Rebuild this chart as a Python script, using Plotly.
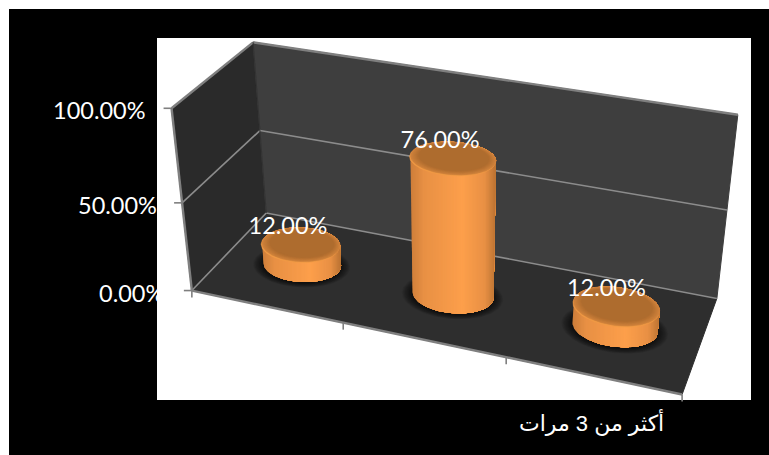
import numpy as np
import plotly.graph_objects as go

# Chart data
categories = ["", "", "أكثر من 3 مرات"]
shares = [12.0, 76.0, 12.0]
value_ticks = [0, 50, 100]
value_tick_labels = ["0.00%", "50.00%", "100.00%"]
value_max = 100.0

# Page geometry
WIDTH, HEIGHT = 769, 455
FRAME = (9, 9, 769, 455)
PANEL = (157, 38, 751, 400)

# Camera calibration: box coordinates (across, depth, height) and where they land on the page
BOX_POINTS = [(0, 0, 0), (0, 0, 1), (0, 1, 0), (0, 1, 1), (1, 0, 0), (1, 1, 0), (1, 1, 1),
              (0, 0, .5), (0, 1, .5), (1, 1, .5), (1/3, 0, 0), (2/3, 0, 0)]
PAGE_POINTS = [(192, 291), (171, 108), (266, 213), (253, 43), (682, 394), (717, 298), (738, 115),
               (183, 202), (260, 130), (727, 210), (343, 323), (506, 358)]


def fit_camera(box, page):
    rows, rhs = [], []
    for (a, b, c), (x, y) in zip(box, page):
        rows.append([a, b, c, 1, 0, 0, 0, 0, -x * a, -x * b, -x * c])
        rhs.append(x)
        rows.append([0, 0, 0, 0, a, b, c, 1, -y * a, -y * b, -y * c])
        rhs.append(y)
    sol = np.linalg.lstsq(np.array(rows, float), np.array(rhs, float), rcond=None)[0]
    return np.append(sol, 1.0).reshape(3, 4)


CAM = fit_camera(BOX_POINTS, PAGE_POINTS)


def project(u, d, v):
    u, d, v = np.broadcast_arrays(np.asarray(u, float), np.asarray(d, float), np.asarray(v, float))
    pts = np.stack([u, d, v, np.ones_like(u)])
    h = CAM @ pts.reshape(4, -1)
    return (h[0] / h[2]).reshape(u.shape), (h[1] / h[2]).reshape(u.shape)


def convex_hull(points):
    pts = sorted(set(points))

    def half(seq):
        out = []
        for p in seq:
            while len(out) > 1 and ((out[-1][0] - out[-2][0]) * (p[1] - out[-2][1])
                                    - (out[-1][1] - out[-2][1]) * (p[0] - out[-2][0])) <= 0:
                out.pop()
            out.append(p)
        return out[:-1]

    return half(pts) + half(pts[::-1])


def clip_right_of(polygon, x_min):
    out = []
    for (x0, y0), (x1, y1) in zip(polygon, polygon[1:] + polygon[:1]):
        if x0 >= x_min:
            out.append((x0, y0))
        if (x0 >= x_min) != (x1 >= x_min):
            out.append((x_min, y0 + (y1 - y0) * (x_min - x0) / (x1 - x0)))
    return out


fig = go.Figure()


def poly(x, y, color, line=None, width=1):
    fig.add_trace(go.Scatter(x=list(x) + [x[0]], y=list(y) + [y[0]], mode="lines", fill="toself",
                             fillcolor=color, line=dict(color=line or color, width=width),
                             hoverinfo="skip", showlegend=False))


def seg(p, q, color, width):
    x0, y0 = project(*p)
    x1, y1 = project(*q)
    fig.add_trace(go.Scatter(x=[float(x0), float(x1)], y=[float(y0), float(y1)], mode="lines",
                             line=dict(color=color, width=width), hoverinfo="skip", showlegend=False))


def quad(corners, color):
    xy = [project(*c) for c in corners]
    poly([float(p[0]) for p in xy], [float(p[1]) for p in xy], color)


# Walls and floor
quad([(0, 0, 0), (0, 1, 0), (0, 1, 1), (0, 0, 1)], "#2a2a2a")
quad([(0, 1, 0), (1, 1, 0), (1, 1, 1), (0, 1, 1)], "#3e3e3e")
quad([(0, 0, 0), (1, 0, 0), (1, 1, 0), (0, 1, 0)], "#2e2e2e")

# Gridlines on both walls
GRID = "#8c8c8c"
for t in value_ticks[:-1]:
    h = t / value_max
    seg((0, 0, h), (0, 1, h), GRID, 1.6)
    seg((0, 1, h), (1, 1, h), GRID, 1.6)

# Box edges
EDGE = "#7f7f7f"
seg((0, 0, 1), (0, 1, 1), EDGE, 2.4)
seg((0, 1, 1), (1, 1, 1), EDGE, 2.4)
seg((0, 0, 0), (0, 0, 1), EDGE, 2.4)
seg((0, 0, 0), (1, 0, 0), EDGE, 2.4)
seg((0, 1, 0), (0, 1, 1), "#333333", 1)


def tick_mark(x0, y0, x1, y1):
    fig.add_trace(go.Scatter(x=[x0, x1], y=[y0, y1], mode="lines", line=dict(color=EDGE, width=1.6),
                             hoverinfo="skip", showlegend=False))


n_cat = len(categories)
for i in range(n_cat + 1):
    x, y = project(i / n_cat, 0, 0)
    tick_mark(float(x), float(y), float(x), float(y) + 7)
for t in value_ticks:
    x, y = project(0, 0, t / value_max)
    tick_mark(float(x) - 8, float(y), float(x), float(y))


# Cylinders
R_U, R_D = 0.083, 0.197
DEPTH = 0.5
SIDE_STOPS = [(-1.0, (206, 126, 58)), (-0.7, (232, 144, 68)), (0.2, (253, 159, 75)),
              (0.72, (232, 144, 68)), (1.0, (182, 112, 48))]
TOP_OUTER = np.array([208, 130, 60])
TOP_INNER = np.array([174, 108, 46])


def rgb(c):
    return "rgb(%d,%d,%d)" % tuple(int(round(float(v))) for v in c)


def side_color(t):
    ts = [s[0] for s in SIDE_STOPS]
    return rgb([np.interp(t, ts, [s[1][k] for s in SIDE_STOPS]) for k in range(3)])


ring = np.linspace(0, 2 * np.pi, 145)
for i, share in enumerate(shares):
    uc = (i + 0.5) / n_cat
    h = share / value_max

    # soft shadow pooled on the floor
    for scale in np.linspace(1.25, 1.0, 14):
        sx, sy = project(uc + R_U * scale * np.cos(ring), DEPTH - 0.012 + R_D * scale * np.sin(ring), 0)
        poly(sx.tolist(), sy.tolist(), "rgba(0,0,0,0.06)", line="rgba(0,0,0,0)", width=0)

    # Paint the barrel's outline left to right: each layer covers everything to the right
    # of its own x, so the shading steps leave no gaps between them.
    bx, by = project(uc + R_U * np.cos(ring), DEPTH + R_D * np.sin(ring), 0)
    tx, ty = project(uc + R_U * np.cos(ring), DEPTH + R_D * np.sin(ring), h)
    outline = convex_hull([(float(a), float(b)) for a, b in zip(np.r_[bx, tx], np.r_[by, ty])])
    xs = [p[0] for p in outline]
    left, right = min(xs), max(xs)
    cx, half = (left + right) / 2, (right - left) / 2
    poly(xs, [p[1] for p in outline], side_color(-1), line="rgba(0,0,0,0)", width=0)
    for x_cut in np.linspace(left, right, 62)[1:-1]:
        part = clip_right_of(outline, float(x_cut))
        poly([p[0] for p in part], [p[1] for p in part], side_color((x_cut - cx) / half),
             line="rgba(0,0,0,0)", width=0)

    # lit front lip of the bevel, then the cap fading inward
    lx, ly = project(uc + R_U * np.cos(ring), DEPTH - 0.012 + R_D * np.sin(ring), h)
    poly(lx.tolist(), ly.tolist(), "#f09a44", width=0.5)
    for f, scale in zip(np.linspace(0, 1, 10), np.linspace(1.0, 0.82, 10)):
        x, y = project(uc + R_U * scale * np.cos(ring), DEPTH + 0.012 * f + R_D * scale * np.sin(ring), h)
        poly(x.tolist(), y.tolist(), rgb(TOP_OUTER + (TOP_INNER - TOP_OUTER) * f), width=0.5)

# Value labels sit just above each cap
LABEL_DX = [-13, -13, -10]
lab_x, lab_y = [], []
for i, share in enumerate(shares):
    x, y = project((i + 0.5) / n_cat, DEPTH, share / value_max)
    lab_x.append(float(x) + LABEL_DX[i])
    lab_y.append(float(y) - 16)
fig.add_trace(go.Scatter(x=lab_x, y=lab_y, mode="text", text=["%.2f%%" % s for s in shares],
                         textposition="middle center",
                         textfont=dict(family="Lato", size=23.5, color="white"),
                         hoverinfo="skip", showlegend=False))

# Axis labels
TICK_LABEL_DX = [-26, -23, -24]
for t, label, dx in zip(value_ticks, value_tick_labels, TICK_LABEL_DX):
    x, y = project(0, 0, t / value_max)
    fig.add_annotation(x=float(x) + dx, y=float(y) + 2, text=label, showarrow=False, xanchor="right",
                       yanchor="middle", font=dict(family="Lato", size=23.5, color="white"))
for i, label in enumerate(categories):
    if label:
        x, _ = project((i + 0.5) / n_cat, 0, 0)
        fig.add_annotation(x=float(x) - 1, y=422, text=label, showarrow=False, xanchor="center",
                           yanchor="middle",
                           font=dict(family="Liberation Sans, DejaVu Sans", size=22, color="white"))

fig.update_layout(
    width=WIDTH, height=HEIGHT, margin=dict(l=0, r=0, t=0, b=0), paper_bgcolor="white",
    plot_bgcolor="rgba(0,0,0,0)", showlegend=False,
    xaxis=dict(range=[0, WIDTH], visible=False, fixedrange=True),
    yaxis=dict(range=[HEIGHT, 0], visible=False, fixedrange=True),
    shapes=[
        dict(type="rect", layer="below", x0=FRAME[0], y0=FRAME[1], x1=FRAME[2], y1=FRAME[3],
             fillcolor="black", line=dict(width=0)),
        dict(type="rect", layer="below", x0=PANEL[0], y0=PANEL[1], x1=PANEL[2], y1=PANEL[3],
             fillcolor="white", line=dict(width=0)),
    ],
)
fig.write_html("out.html", config=dict(displayModeBar=False))
